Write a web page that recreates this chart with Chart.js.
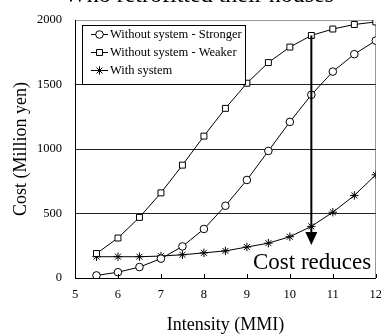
<!DOCTYPE html>
<html><head><meta charset="utf-8">
<script src="https://cdn.jsdelivr.net/npm/chart.js@4/dist/chart.umd.min.js"></script>
<style>html,body{margin:0;padding:0;background:#fff}#c{display:block}</style>
</head><body>
<canvas id="c" width="381" height="336"></canvas>
<script>
const intensity = [5.5, 6, 6.5, 7, 7.5, 8, 8.5, 9, 9.5, 10, 10.5, 11, 11.5, 12];
const stronger = [20, 45, 85, 150, 245, 380, 560, 760, 985, 1210, 1420, 1600, 1735, 1840];
const weaker = [190, 310, 470, 660, 875, 1100, 1315, 1510, 1670, 1790, 1880, 1930, 1965, 1985];
const withSystem = [165, 165, 165, 170, 180, 195, 210, 240, 270, 320, 400, 510, 640, 800];
const seriesNames = ['Without system - Stronger', 'Without system - Weaker', 'With system'];
const titleText = 'Who retrofitted their houses';
const annotationText = 'Cost reduces';
const arrowX = 10.5, arrowFrom = 1880, arrowTo = 255;
const yTicks = [0, 500, 1000, 1500, 2000];
const xTicks = [5, 6, 7, 8, 9, 10, 11, 12];

const pts = arr => intensity.map((x, i) => ({x, y: arr[i]}));
const styles = ['circle', 'rect', 'star'];
const radii = [3.8, 4.2, 4.2];
const datasets = [stronger, weaker, withSystem].map((arr, i) => ({
  label: seriesNames[i], data: pts(arr), borderColor: '#000', borderWidth: 1,
  backgroundColor: '#fff', pointStyle: styles[i], pointRadius: radii[i],
  pointBorderColor: '#000', pointBackgroundColor: '#fff', pointBorderWidth: 1,
  fill: false, tension: 0
}));

const serif = '"Liberation Serif", "Times New Roman", serif';

const extras = {
  id: 'extras',
  afterDatasetsDraw(chart) {
    const {ctx, scales: {x, y}, chartArea: a} = chart;
    ctx.save();
    ctx.strokeStyle = '#000'; ctx.lineWidth = 1;
    xTicks.forEach(v => { const px = Math.round(x.getPixelForValue(v)) + 0.5;
      ctx.beginPath(); ctx.moveTo(px, a.bottom); ctx.lineTo(px, a.bottom - 4); ctx.stroke(); });
    const ax = x.getPixelForValue(arrowX);
    const y1 = y.getPixelForValue(arrowFrom), y2 = y.getPixelForValue(arrowTo);
    ctx.lineWidth = 2;
    ctx.beginPath(); ctx.moveTo(ax, y1); ctx.lineTo(ax, y2 - 10); ctx.stroke();
    ctx.fillStyle = '#000';
    ctx.beginPath(); ctx.moveTo(ax - 6, y2 - 13); ctx.lineTo(ax + 6, y2 - 13); ctx.lineTo(ax, y2); ctx.closePath(); ctx.fill();
    ctx.fillStyle = '#fff';
    ctx.fillRect(252, 249, 120, 24);
    ctx.fillStyle = '#000';
    ctx.font = '23px ' + serif; ctx.textAlign = 'left'; ctx.textBaseline = 'alphabetic';
    ctx.fillText(annotationText, 253, 269);
    const lx = 82, ly = 25, lw = 163, lh = 59;
    ctx.fillStyle = '#fff'; ctx.fillRect(lx, ly, lw, lh);
    ctx.lineWidth = 1; ctx.strokeStyle = '#000';
    ctx.strokeRect(lx + 0.5, ly + 0.5, lw, lh);
    ctx.font = '12.5px ' + serif; ctx.textBaseline = 'middle';
    chart.data.datasets.forEach((ds, i) => {
      const cy = 34 + i * 18;
      ctx.strokeStyle = '#000'; ctx.lineWidth = 1;
      ctx.beginPath(); ctx.moveTo(91, cy + 0.5); ctx.lineTo(108, cy + 0.5); ctx.stroke();
      ctx.fillStyle = '#fff';
      Chart.helpers.drawPoint(ctx, {pointStyle: ds.pointStyle, radius: ds.pointRadius, borderWidth: 1, rotation: 0}, 99.5, cy + 0.5);
      ctx.fillStyle = '#000';
      ctx.fillText(ds.label, 110, cy + 1);
    });
    ctx.font = '24px ' + serif; ctx.textAlign = 'center'; ctx.textBaseline = 'alphabetic';
    ctx.fillText(titleText, 199, 1.5);
    ctx.restore();
  }
};

new Chart(document.getElementById('c'), {
  type: 'line',
  data: {datasets},
  options: {
    responsive: false, animation: false, devicePixelRatio: 1,
    layout: {padding: {top: 20, right: 5, left: 0, bottom: 0}},
    plugins: {legend: {display: false}, tooltip: {enabled: false}},
    scales: {
      x: {
        type: 'linear', min: 5, max: 12,
        afterFit(s) { s.height = 58; s.paddingLeft = 0; s.paddingRight = 0; },
        afterBuildTicks(s) { s.ticks = xTicks.map(v => ({value: v})); },
        grid: {drawTicks: false, color: c => c.tick && c.tick.value === 12 ? '#999' : 'rgba(0,0,0,0)', lineWidth: 1},
        border: {display: true, color: '#000', width: 1},
        ticks: {padding: 9, color: '#000', font: {family: serif, size: 12.5}, maxRotation: 0, autoSkip: false, callback: v => String(v)},
        title: {display: true, text: 'Intensity (MMI)', color: '#000', font: {family: serif, size: 18}, padding: {top: 6, bottom: 0}}
      },
      y: {
        min: 0, max: 2000,
        afterFit(s) { s.width = 75; s.paddingTop = 0; s.paddingBottom = 0; },
        afterBuildTicks(s) { s.ticks = yTicks.map(v => ({value: v})); },
        grid: {drawTicks: false, color: c => c.tick && c.tick.value === 2000 ? '#999' : (c.tick && c.tick.value === 0 ? 'rgba(0,0,0,0)' : '#222'), lineWidth: 1},
        border: {display: true, color: '#000', width: 1},
        ticks: {padding: 13, color: '#000', font: {family: serif, size: 12.5}, callback: v => String(v)},
        title: {display: true, text: 'Cost (Million yen)', color: '#000', font: {family: serif, size: 18}, padding: {top: 10, bottom: 0}}
      }
    }
  },
  plugins: [extras]
});
</script>
</body></html>
